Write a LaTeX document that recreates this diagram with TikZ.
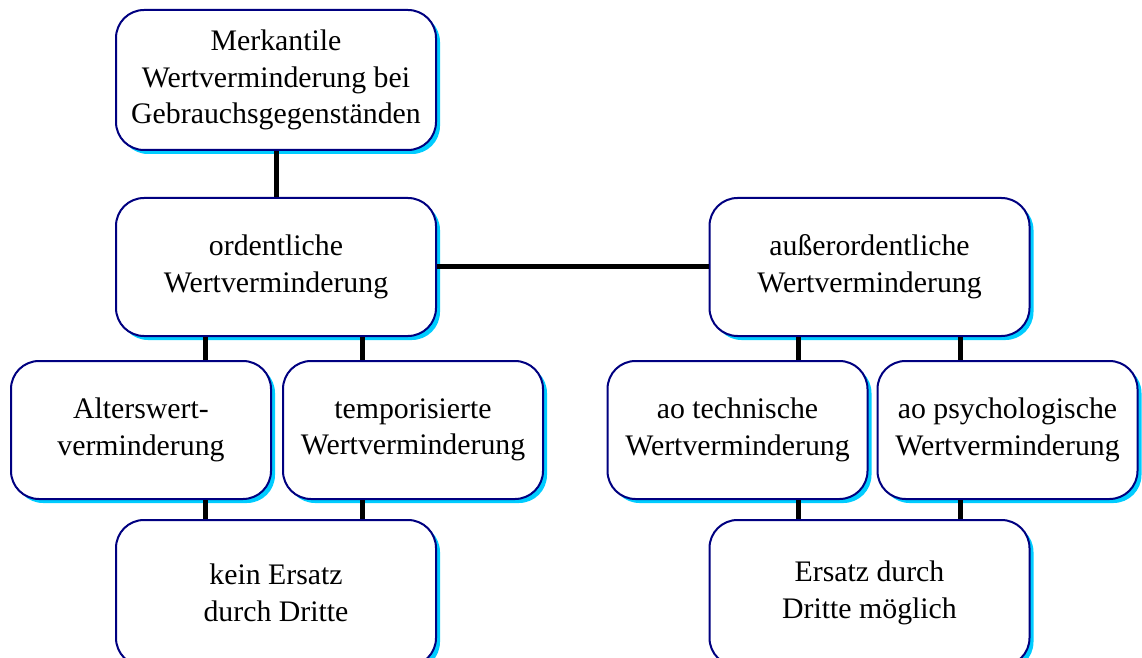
\documentclass[tikz,border=0pt]{standalone}
\usepackage{fontspec}
\setmainfont{Liberation Serif}
\usetikzlibrary{shadows}
\definecolor{boxline}{RGB}{0,0,128}
\definecolor{boxshade}{RGB}{0,204,255}
\tikzset{
	box/.style={draw=boxline, line width=1pt, fill=white, rounded corners=14pt, align=center, inner sep=0pt,
		font=\fontsize{14.9}{18.3}\selectfont,
		drop shadow={shadow xshift=2pt, shadow yshift=-2pt, fill=boxshade, opacity=1}},
	widebox/.style={box, minimum width=160pt, minimum height=69pt},
	smallbox/.style={box, minimum width=130pt, minimum height=69pt},
	link/.style={line width=2.5pt}
}
\begin{document}
\begin{tikzpicture}[x=0.5pt, y=-0.5pt]
	\useasboundingbox (0,0) rectangle (1142,658);
	% top
	\node[widebox, minimum height=70pt] (top) at (276,80) {Merkantile\\Wertverminderung bei\\Gebrauchsgegenständen};
	% second row
	\node[widebox] (ord) at (276,267) {ordentliche\\Wertverminderung};
	\node[widebox] (aord) at (869.5,267) {außerordentliche\\Wertverminderung};
	% third row
	\node[smallbox] (alter) at (141,430) {Alterswert-\\verminderung};
	\node[smallbox] (temp) at (413,430) {temporisierte\\Wertverminderung};
	\node[smallbox] (tech) at (737.5,430) {ao technische\\Wertverminderung};
	\node[smallbox] (psych) at (1007.5,430) {ao psychologische\\Wertverminderung};
	% bottom
	\node[widebox, minimum height=73pt] (kein) at (276,593) {kein Ersatz\\durch Dritte};
	\node[widebox, minimum height=73pt] (ersatz) at (869.5,593) {Ersatz durch\\Dritte möglich};
	% connectors
	\coordinate (la) at (205,0);
	\coordinate (lb) at (362,0);
	\coordinate (ra) at (798,0);
	\coordinate (rb) at (960,0);
	\draw[link] (top.south) -- (ord.north);
	\draw[link] (ord.east) -- (aord.west);
	\draw[link] (ord.south -| la) -- (alter.north -| la);
	\draw[link] (ord.south -| lb) -- (temp.north -| lb);
	\draw[link] (alter.south -| la) -- (kein.north -| la);
	\draw[link] (temp.south -| lb) -- (kein.north -| lb);
	\draw[link] (aord.south -| ra) -- (tech.north -| ra);
	\draw[link] (aord.south -| rb) -- (psych.north -| rb);
	\draw[link] (tech.south -| ra) -- (ersatz.north -| ra);
	\draw[link] (psych.south -| rb) -- (ersatz.north -| rb);
\end{tikzpicture}
\end{document}
